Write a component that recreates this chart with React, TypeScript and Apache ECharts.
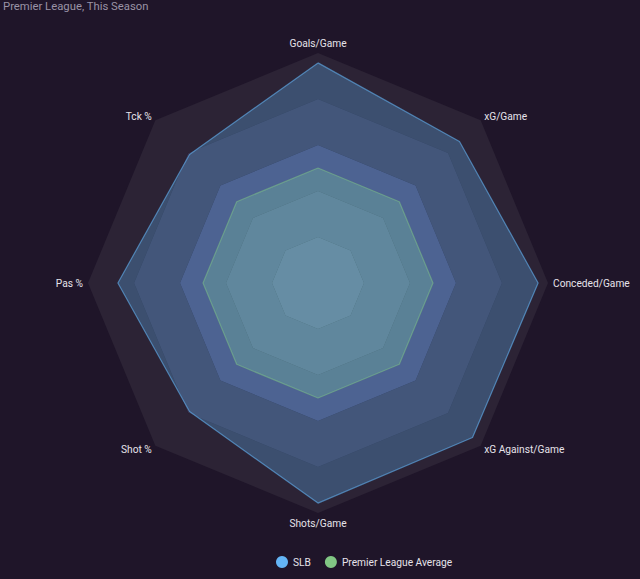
import React, { useEffect, useRef } from "react";
import * as echarts from "echarts";

const indicators = [
  "Goals/Game",
  "Tck %",
  "Pas %",
  "Shot %",
  "Shots/Game",
  "xG Against/Game",
  "Conceded/Game",
  "xG/Game",
];
const slbValues = [95.7, 79, 87, 79, 95.7, 95, 95.7, 87];
const leagueValues = [50, 50, 50, 50, 50, 50, 50, 50];
const seriesNames = ["SLB", "Premier League Average"];
const titleText = "Premier League, This Season";

export default function App() {
  const ref = useRef<HTMLDivElement>(null);
  useEffect(() => {
    if (!ref.current) return;
    const chart = echarts.init(ref.current, undefined, { renderer: "svg" });
    chart.setOption({
      animation: false,
      backgroundColor: "#1f1529",
      color: ["#64b5f6", "#81c784"],
      title: {
        text: titleText,
        left: 3,
        top: 1,
        padding: 0,
        textStyle: {
          color: "#9a93a6",
          fontSize: 11.3,
          fontWeight: "normal",
          fontFamily: "Roboto",
        },
      },
      legend: {
        data: seriesNames,
        left: 276,
        top: 556,
        icon: "circle",
        itemWidth: 12,
        itemHeight: 12,
        itemGap: 14,
        padding: 0,
        textStyle: { color: "#e6e3ea", fontSize: 10.2, fontFamily: "Roboto" },
      },
      radar: {
        center: [318, 283],
        radius: 230,
        shape: "polygon",
        splitNumber: 5,
        nameGap: 5,
        indicator: indicators.map((n) => ({ name: n, max: 100, min: 0 })),
        axisName: { color: "#e6e3ea", fontSize: 10.2, fontFamily: "Roboto" },
        axisLine: { show: false },
        splitLine: { show: false },
        axisTick: { show: false },
        splitArea: {
          show: true,
          areaStyle: {
            color: ["#5c5a84", "#504d78", "#443f68", "#352d45", "#2c2335"],
          },
        },
      },
      series: [
        {
          type: "radar",
          symbol: "none",
          data: [
            {
              name: seriesNames[0],
              value: slbValues,
              lineStyle: { color: "#64b5f6", width: 1.2, opacity: 0.6 },
              areaStyle: { color: "#64b5f6", opacity: 0.3 },
            },
            {
              name: seriesNames[1],
              value: leagueValues,
              lineStyle: { color: "#81c784", width: 1.2, opacity: 0.5 },
              areaStyle: { color: "#7cc8a0", opacity: 0.3 },
            },
          ],
        },
      ],
    });
    return () => chart.dispose();
  }, []);
  return (
    <div
      ref={ref}
      style={{ position: "fixed", left: 0, top: 0, width: 640, height: 579 }}
    />
  );
}
